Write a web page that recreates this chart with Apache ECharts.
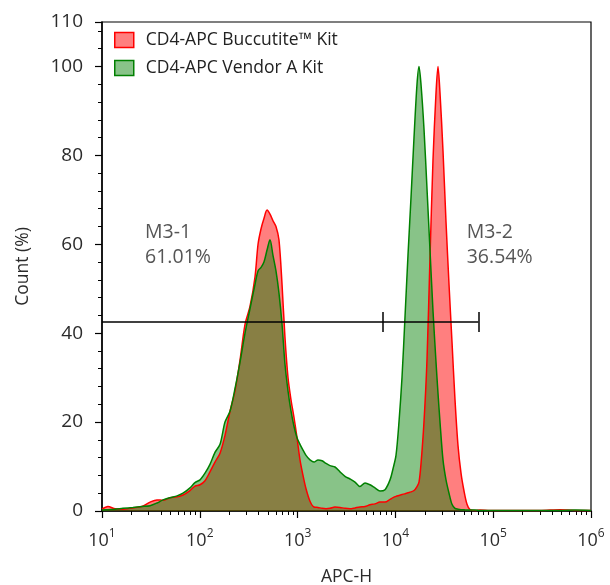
<!DOCTYPE html>
<html>
<head>
<meta charset="utf-8">
<script src="https://cdn.jsdelivr.net/npm/echarts@6/dist/echarts.min.js"></script>
<style>html,body{margin:0;padding:0;background:#fff;}#c{width:610px;height:585px;}</style>
</head>
<body>
<div id="c"></div>
<script>
// APC-H intensity (x) grid shared by both histograms
var apcH = [10, 11.5, 13.6, 16.4, 20.7, 25.6, 31.0, 36.5, 42.1, 49.6, 58.5, 67.3, 79.4, 89.3, 100.5, 113, 127, 143, 161, 181,
  204, 229, 258, 290, 326, 367, 394, 423, 453, 487, 522, 560, 601, 645, 693, 743, 798, 856, 919, 986,
  1058, 1136, 1219, 1339, 1471, 1617, 1776, 1952, 2145, 2412, 2713, 3052, 3435, 3863, 4345, 4889, 5499, 6185, 6958, 7829,
  8809, 9453, 10140, 10880, 11680, 12540, 13450, 14440, 15500, 16630, 17430, 18270, 19600, 21040, 22580, 24240, 26010, 27260, 28580, 30670,
  32920, 35330, 37910, 40690, 43670, 46870, 50280, 53970, 57920, 65150, 73290, 92750, 117300, 187900, 301000, 482000, 686000, 1000000];
// Count (%) - CD4-APC Buccutite Kit
var buccutite = [0.4, 1.0, 0.5, 0.4, 0.7, 1.0, 2.0, 2.5, 2.4, 3.0, 3.2, 3.6, 4.6, 5.6, 5.9, 6.8, 8.8, 11.0, 13.0, 17,
  22.5, 27, 34, 42, 46, 52.7, 60, 63.5, 65.8, 67.7, 66.8, 65.3, 64, 61, 51, 39, 30, 25, 21, 16.5,
  11.5, 8, 5, 2.2, 0.9, 0.8, 0.6, 0.5, 0.6, 0.9, 0.8, 0.6, 0.5, 0.7, 0.9, 1.0, 1.4, 1.6, 2.0, 2.0,
  2.6, 3.0, 3.3, 3.5, 3.7, 3.9, 4.1, 4.3, 4.6, 5.5, 6.5, 10.6, 20, 34, 57, 79, 94, 100, 94, 81,
  65, 51, 38, 25, 14.7, 8.5, 4.5, 1.5, 0.3, 0.1, 0.2, 0.1, 0.1, 0.1, 0.1, 0.3, 0.1, 0.1];
// Count (%) - CD4-APC Vendor A Kit
var vendorA = [0.2, 0.3, 0.4, 0.6, 0.8, 1.0, 1.2, 1.8, 2.5, 3.0, 3.4, 4.0, 5.2, 6.4, 7.0, 8.5, 10.5, 13.2, 15.0, 20,
  22.5, 27.5, 33.5, 40, 45.5, 51, 54, 54.8, 56, 58.7, 61, 57.5, 54, 49, 42, 33, 27, 22.5, 19, 16.5,
  15, 13.7, 12.5, 11.5, 11, 11.5, 11.3, 10.7, 10.2, 9.9, 8.8, 7.8, 7.2, 6.5, 5.5, 6.3, 5.9, 5.2, 4.5, 4.8,
  7.0, 9.5, 12.5, 20, 30, 43.7, 57.5, 70.5, 84, 96, 100, 96, 86, 72.5, 58.7, 45, 33.5, 26.5, 20, 11.5,
  7.0, 4.0, 1.5, 0.6, 0.4, 0.3, 0.3, 0.2, 0.2, 0.2, 0.1, 0.1, 0.1, 0.1, 0.1, 0.1, 0.2, 0.1];
var seriesNames = ['CD4-APC Buccutite\u2122 Kit', 'CD4-APC Vendor A Kit'];
// Gates (markers)
var gateBounds = [10, 7345, 70500];
var gateLevel = 42.5;
var gateTickHalf = 2.25;
var gateNames = ['M3-1', 'M3-2'];
var gatePercents = ['61.01%', '36.54%'];
var gateLabelX = [24.5, 47640];
var gateLabelY = 59.85;
// Axis ticks
var xMajor = [10, 100, 1000, 10000, 100000, 1000000];
var xMinor = [];
for (var d = 10; d < 1000000; d *= 10) { for (var m = 2; m <= 9; m++) xMinor.push(d * m); }
var yMinor = [];
for (var v = 4; v < 110; v += 4) { if (v % 20 !== 0) yMinor.push(v); }

var FONT = 'Open Sans';
var TXT = '#2b2b2b';

function pairs(xs, ys) { return xs.map(function (x, i) { return [x, ys[i]]; }); }

var chart = echarts.init(document.getElementById('c'), null, {renderer: 'canvas'});
var option = {
  animation: false,
  textStyle: {fontFamily: FONT},
  grid: {left: 102, right: 19, top: 22, bottom: 74, show: true, borderColor: '#000', borderWidth: 1.2,
    backgroundColor: 'transparent', containLabel: false, outerBoundsMode: 'none'},
  legend: {
    orient: 'vertical', left: 109, top: 26, itemWidth: 19, itemHeight: 15, itemGap: 10,
    textStyle: {fontFamily: FONT, fontSize: 17.5, color: '#222', padding: [0, 0, 0, 7]},
    data: [
      {name: seriesNames[0], icon: 'rect', itemStyle: {color: 'rgba(255,0,0,0.5)', opacity: 1, borderColor: '#ff0000', borderWidth: 1.5}},
      {name: seriesNames[1], icon: 'rect', itemStyle: {color: 'rgba(0,126,0,0.465)', opacity: 1, borderColor: '#008000', borderWidth: 1.5}}
    ]
  },
  xAxis: [{
    type: 'log', logBase: 10, min: 10, max: 1000000, gridIndex: 0, position: 'bottom',
    name: 'APC-H', nameLocation: 'middle', nameGap: 57,
    nameTextStyle: {fontFamily: FONT, fontSize: 17.5, color: TXT},
    axisLine: {onZero: false, lineStyle: {color: '#000', width: 1.5}},
    axisTick: {show: true, inside: false, length: 7, lineStyle: {color: '#000', width: 1.2}, customValues: xMajor},
    axisLabel: {
      margin: 17, customValues: xMajor,
      formatter: function (val) {
        var e = Math.round(Math.log(val) / Math.LN10);
        return '{b|10}{s|' + e + '}';
      },
      rich: {
        b: {fontFamily: FONT, fontSize: 18, color: TXT, lineHeight: 22, verticalAlign: 'bottom'},
        s: {fontFamily: FONT, fontSize: 12, color: TXT, lineHeight: 13, verticalAlign: 'top'}
      }
    },
    splitLine: {show: false}
  }, {
    type: 'log', logBase: 10, min: 10, max: 1000000, gridIndex: 0, position: 'bottom',
    axisLine: {show: false, onZero: false},
    axisTick: {show: true, inside: false, length: 4, lineStyle: {color: '#000', width: 1}, customValues: xMinor},
    axisLabel: {show: false},
    splitLine: {show: false}
  }],
  yAxis: [{
    type: 'value', min: 0, max: 110, interval: 20, gridIndex: 0, position: 'left',
    name: 'Count (%)', nameLocation: 'middle', nameGap: 70, nameRotate: 90,
    nameTextStyle: {fontFamily: FONT, fontSize: 17.5, color: TXT},
    axisLine: {show: true, onZero: false, lineStyle: {color: '#000', width: 1.5}},
    axisTick: {show: true, inside: false, length: 7, lineStyle: {color: '#000', width: 1.2}},
    axisLabel: {margin: 19, fontFamily: FONT, fontSize: 19, color: TXT},
    splitLine: {show: false}
  }, {
    type: 'value', min: 0, max: 110, gridIndex: 0, position: 'left',
    axisLine: {show: false, onZero: false},
    axisTick: {show: true, inside: false, length: 4, lineStyle: {color: '#000', width: 1}, customValues: yMinor},
    axisLabel: {show: false},
    splitLine: {show: false}
  }],
  series: [{
    name: seriesNames[0], type: 'line', xAxisIndex: 0, yAxisIndex: 0,
    data: pairs(apcH, buccutite), showSymbol: false, symbol: 'none', smooth: 0.3,
    lineStyle: {color: '#ff0000', width: 1.5},
    itemStyle: {color: '#ff0000'},
    areaStyle: {color: '#ff0000', opacity: 0.5, origin: 'start'}
  }, {
    name: seriesNames[1], type: 'line', xAxisIndex: 0, yAxisIndex: 0,
    data: pairs(apcH, vendorA), showSymbol: false, symbol: 'none', smooth: 0.3,
    lineStyle: {color: '#008000', width: 1.5},
    itemStyle: {color: '#008000'},
    areaStyle: {color: '#007e00', opacity: 0.465, origin: 'start'}
  }, {
    name: 'gates', type: 'line', xAxisIndex: 0, yAxisIndex: 0, silent: true,
    data: [[gateBounds[0], gateLevel], [gateBounds[2], gateLevel]],
    showSymbol: false, symbol: 'none',
    lineStyle: {color: '#000', width: 1.5},
    markLine: {
      silent: true, symbol: ['none', 'none'], label: {show: false},
      lineStyle: {color: '#000', width: 1.5, type: 'solid'},
      data: gateBounds.slice(1).map(function (x) {
        return [{coord: [x, gateLevel - gateTickHalf]}, {coord: [x, gateLevel + gateTickHalf]}];
      })
    }
  }, {
    name: 'gateLabels', type: 'scatter', xAxisIndex: 0, yAxisIndex: 0, silent: true,
    symbolSize: 0,
    data: gateLabelX.map(function (x, i) { return {value: [x, gateLabelY], name: gateNames[i] + '\n' + gatePercents[i]}; }),
    label: {
      show: true, position: 'right', distance: 5,
      formatter: function (p) { return p.name; },
      fontFamily: FONT, fontSize: 19.5, lineHeight: 25, color: TXT, align: 'left'
    }
  }]
};
chart.setOption(option);
</script>
</body>
</html>
